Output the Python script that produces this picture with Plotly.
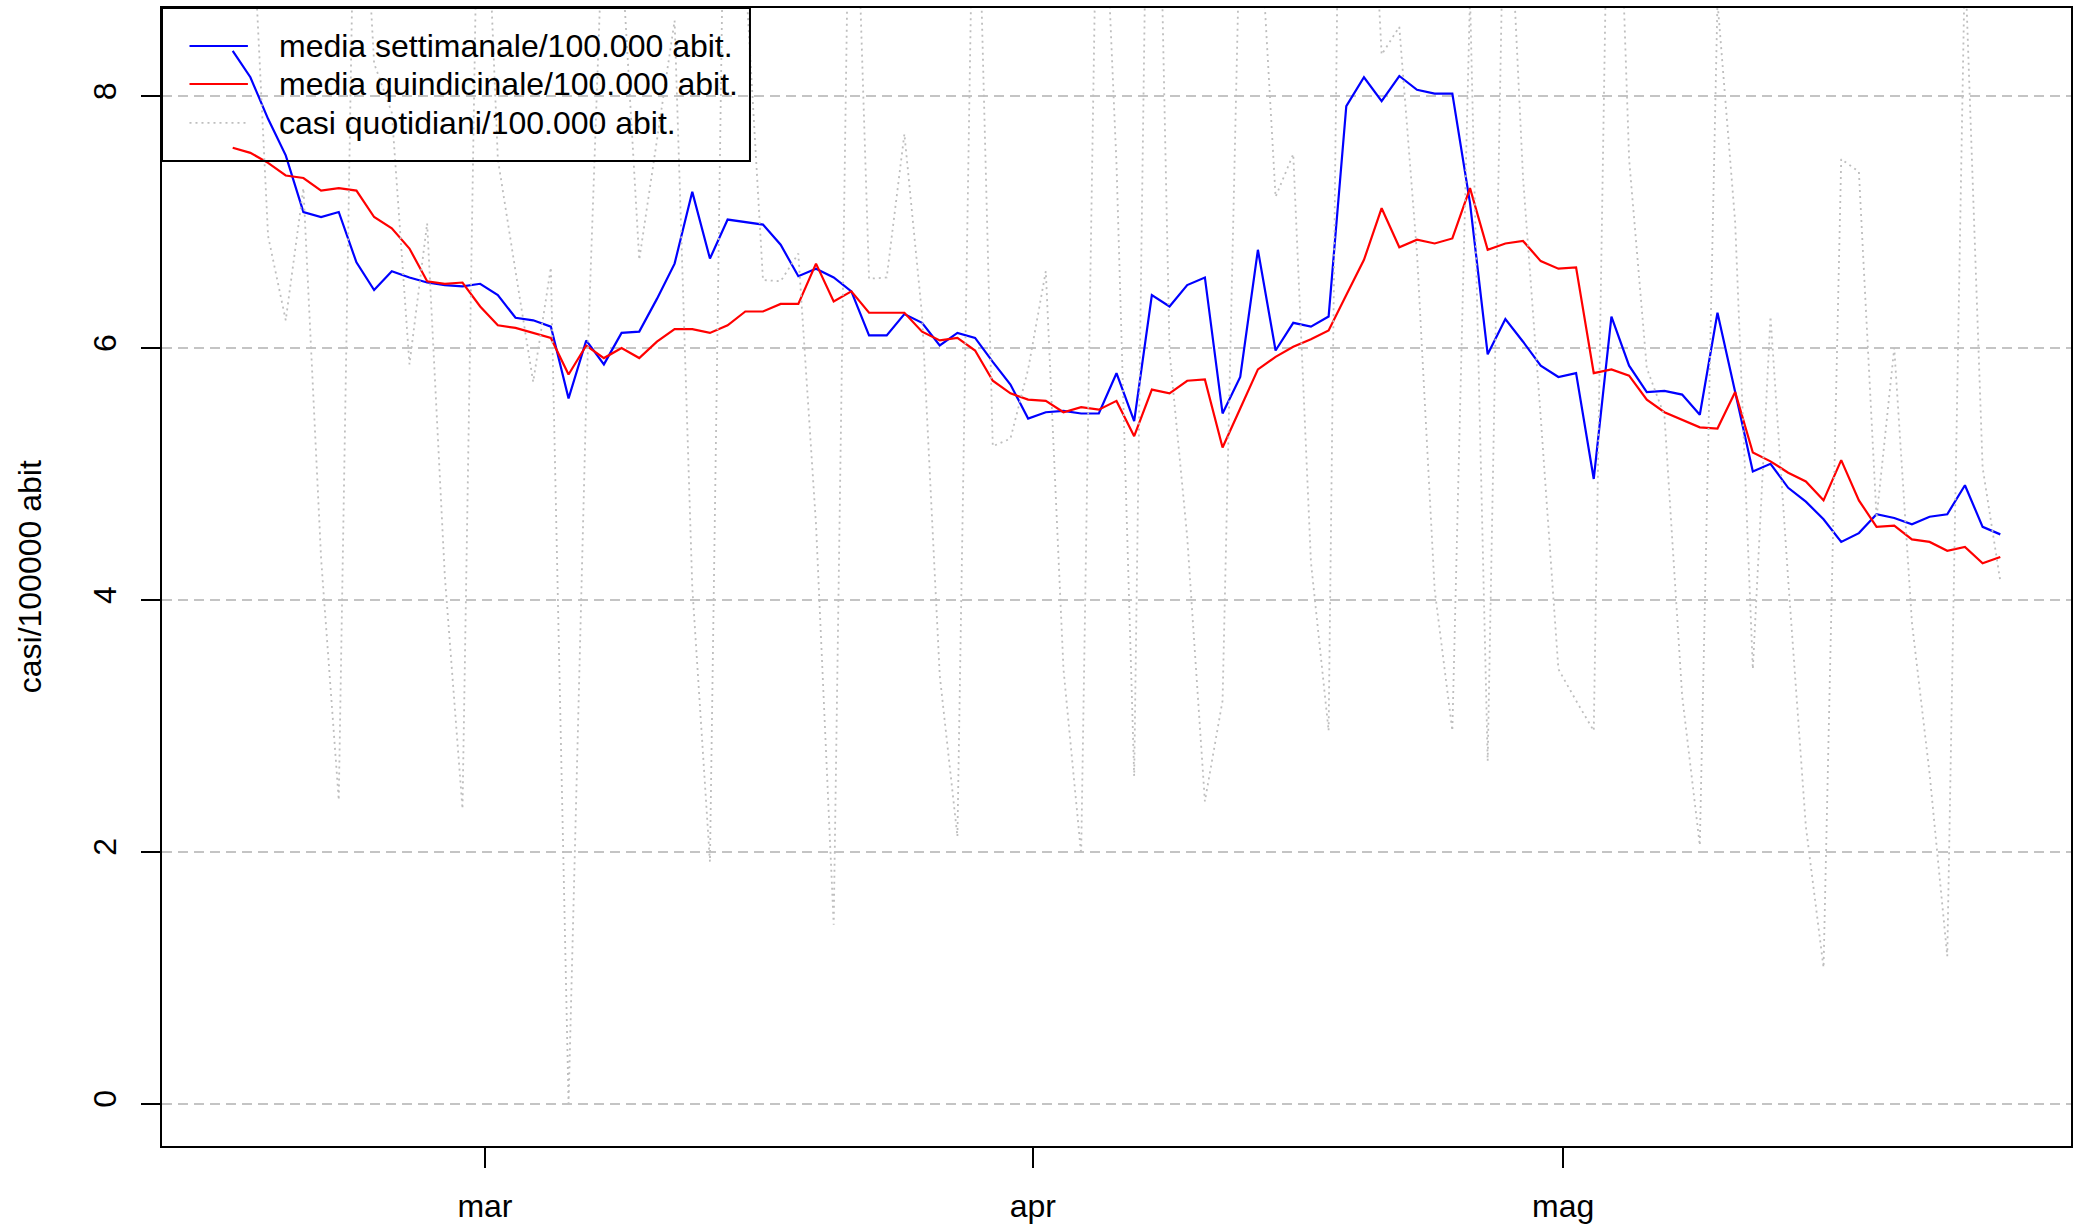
import pandas as pd
import plotly.graph_objects as go

# giorni osservati
giorni = pd.date_range("2021-02-15", "2021-05-26", freq="D")

# media mobile a 7 giorni per 100.000 abitanti
media_sett = [
    8.36, 8.15, 7.82, 7.53, 7.08, 7.04, 7.08, 6.68, 6.46, 6.61,
    6.56, 6.52, 6.50, 6.49, 6.51, 6.42, 6.24, 6.22, 6.17, 5.60,
    6.06, 5.87, 6.12, 6.13, 6.39, 6.67, 7.24, 6.71, 7.02, 7.00,
    6.98, 6.82, 6.57, 6.63, 6.56, 6.45, 6.10, 6.10, 6.27, 6.20,
    6.02, 6.12, 6.08, 5.89, 5.71, 5.44, 5.49, 5.50, 5.48, 5.48,
    5.80, 5.42, 6.42, 6.33, 6.50, 6.56, 5.48, 5.77, 6.78, 5.98,
    6.20, 6.17, 6.25, 7.92, 8.15, 7.96, 8.16, 8.05, 8.02, 8.02,
    7.15, 5.95, 6.23, 6.05, 5.86, 5.77, 5.80, 4.96, 6.25, 5.86,
    5.65, 5.66, 5.63, 5.47, 6.28, 5.65, 5.02, 5.08, 4.89, 4.78,
    4.64, 4.46, 4.53, 4.68, 4.65, 4.60, 4.66, 4.68, 4.91, 4.58,
    4.52,
]

# media mobile a 14 giorni per 100.000 abitanti
media_quind = [
    7.59, 7.55, 7.47, 7.37, 7.35, 7.25, 7.27, 7.25, 7.04, 6.95,
    6.79, 6.53, 6.51, 6.52, 6.33, 6.18, 6.16, 6.12, 6.08, 5.79,
    6.02, 5.92, 6.00, 5.92, 6.05, 6.15, 6.15, 6.12, 6.18, 6.29,
    6.29, 6.35, 6.35, 6.67, 6.37, 6.45, 6.28, 6.28, 6.28, 6.13,
    6.06, 6.08, 5.98, 5.74, 5.64, 5.59, 5.58, 5.49, 5.53, 5.51,
    5.58, 5.30, 5.67, 5.64, 5.74, 5.75, 5.21, 5.52, 5.83, 5.93,
    6.01, 6.07, 6.14, 6.42, 6.70, 7.11, 6.80, 6.86, 6.83, 6.87,
    7.27, 6.78, 6.83, 6.85, 6.69, 6.63, 6.64, 5.80, 5.83, 5.78,
    5.59, 5.49, 5.43, 5.37, 5.36, 5.65, 5.17, 5.10, 5.01, 4.94,
    4.79, 5.11, 4.79, 4.58, 4.59, 4.48, 4.46, 4.39, 4.42, 4.29,
    4.34,
]

# casi giornalieri per 100.000 abitanti
casi_giorno = [
    13.6, 9.80, 6.89, 6.22, 7.27, 4.33, 2.41, 10.83, 8.26, 7.87,
    5.87, 6.99, 4.19, 2.34, 10.97, 7.50, 6.61, 5.73, 6.64, 0.00,
    5.60, 9.64, 9.15, 6.70, 7.65, 8.60, 4.10, 1.92, 11.81, 9.00,
    6.54, 6.53, 6.75, 4.60, 1.42, 11.04, 6.55, 6.56, 7.70, 6.26,
    3.40, 2.12, 10.76, 5.22, 5.28, 5.83, 6.61, 3.45, 1.98, 10.76,
    7.46, 2.60, 12.83, 5.97, 4.50, 2.40, 3.20, 9.49, 9.69, 7.20,
    7.54, 4.30, 2.96, 14.9, 11.10, 8.33, 8.55, 6.75, 4.08, 2.96,
    8.80, 2.72, 10.32, 7.35, 5.45, 3.45, 3.20, 2.96, 11.70, 7.50,
    5.84, 5.46, 3.24, 2.05, 8.75, 7.00, 3.45, 6.25, 4.16, 2.20,
    1.08, 7.50, 7.40, 4.65, 6.00, 3.82, 2.62, 1.17, 9.10, 5.05,
    4.15,
]

mesi = ["mar", "apr", "mag"]
inizio_mesi = pd.to_datetime(["2021-03-01", "2021-04-01", "2021-05-01"])

etichette = [
    "media settimanale/100.000 abit.",
    "media quindicinale/100.000 abit.",
    "casi quotidiani/100.000 abit.",
]

x = list((giorni - giorni[0]).days)
x_mesi = [(d - giorni[0]).days + 0.27 for d in inizio_mesi]

fig = go.Figure()
fig.add_trace(go.Scatter(x=x, y=media_sett, mode="lines", name=etichette[0],
                         line=dict(color="#0000FF", width=2.2)))
fig.add_trace(go.Scatter(x=x, y=media_quind, mode="lines", name=etichette[1],
                         line=dict(color="#FF0000", width=2.2)))
fig.add_trace(go.Scatter(x=x, y=casi_giorno, mode="lines", name=etichette[2],
                         line=dict(color="#BEBEBE", width=1.8, dash="2px,4px")))

# legenda disegnata come in R (riquadro in alto a sinistra)
shapes = [dict(type="rect", xref="paper", yref="paper", x0=0, x1=0.308, y0=0.8656, y1=1.0,
               line=dict(color="black", width=2), fillcolor="rgba(0,0,0,0)")]
annotations = []
stili = [("#0000FF", "solid", 2.2), ("#FF0000", "solid", 2.2), ("#BEBEBE", "2px,4px", 1.8)]
righe_y = [0.9666, 0.9332, 0.899]
for (col, dash, w), yy, testo in zip(stili, righe_y, etichette):
    shapes.append(dict(type="line", xref="paper", yref="paper", x0=0.0144, x1=0.045,
                       y0=yy, y1=yy, line=dict(color=col, width=w, dash=dash)))
    annotations.append(dict(xref="paper", yref="paper", x=0.0602, y=yy, text=testo,
                            showarrow=False, xanchor="left", yanchor="middle",
                            font=dict(size=32, color="black")))

annotations.append(dict(xref="paper", yref="paper", x=-0.069, y=0.5, text="casi/100000 abit",
                        textangle=-90, showarrow=False, xanchor="center", yanchor="middle",
                        font=dict(size=32, color="black")))

fig.update_layout(
    width=2084, height=1225,
    margin=dict(l=162, r=13, t=8, b=79),
    plot_bgcolor="white", paper_bgcolor="white",
    showlegend=False,
    font=dict(family="Liberation Sans, Arial, sans-serif", size=32, color="black"),
    shapes=shapes,
    annotations=annotations,
)
fig.update_xaxes(
    range=[-4, 104], tickvals=x_mesi, ticktext=mesi,
    ticks="outside", ticklen=20, tickwidth=2, tickcolor="black",
    ticklabelstandoff=11, automargin=False,
    showgrid=False, zeroline=False,
    showline=True, linecolor="black", linewidth=2, mirror=True,
)
fig.update_yaxes(
    range=[-0.337, 8.70], tickvals=[0, 2, 4, 6, 8],
    tickangle=-90, ticks="outside", ticklen=19, tickwidth=2, tickcolor="black",
    ticklabelstandoff=12, automargin=False,
    showgrid=True, gridcolor="#C4C4C4", gridwidth=2, griddash="10px,6px",
    zeroline=False,
    showline=True, linecolor="black", linewidth=2, mirror=True,
)

# la pagina non deve avere margini attorno al grafico
fig.write_html("out.html", config={"displayModeBar": False},
               post_script="document.body.style.margin='0';document.body.style.overflow='hidden';")
